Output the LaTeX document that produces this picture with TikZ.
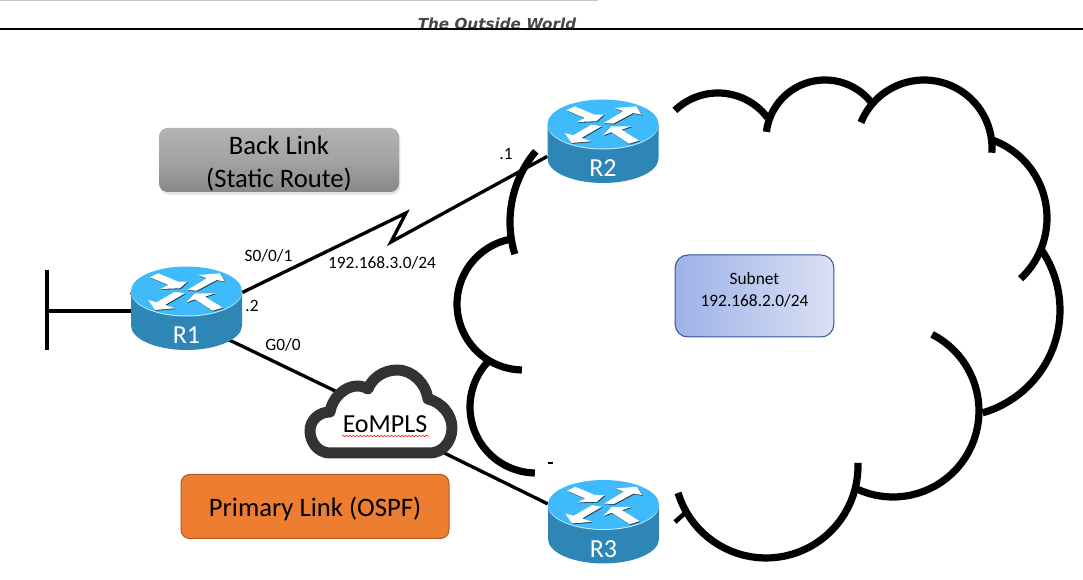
\documentclass[tikz,border=0pt]{standalone}
\usepackage{fontspec}
\setmainfont{Carlito}
\newfontfamily\topfont{DejaVu Sans}
\usetikzlibrary{backgrounds}
\usetikzlibrary{shadows}
\usetikzlibrary{decorations.pathmorphing}
\definecolor{routertop}{HTML}{3FBBFB}
\definecolor{routerside}{HTML}{2E86B6}
\definecolor{routerarrow}{HTML}{1F3A4A}
\definecolor{primaryfill}{HTML}{ED7D31}
\definecolor{primaryedge}{HTML}{AE5A21}
\definecolor{subnetleft}{HTML}{9EB2E8}
\definecolor{subnetright}{HTML}{DBE1F5}
\definecolor{subnetedge}{HTML}{2F5597}
\tikzset{
    routerbox/.style={minimum width=83.25pt,minimum height=62.25pt,inner sep=0pt},
    routertext/.style={text=white,font=\fontsize{19.5}{22}\selectfont,inner sep=0pt},
    small/.style={font=\fontsize{13}{15}\selectfont,inner sep=0pt,align=center},
    big/.style={font=\fontsize{20}{24.5}\selectfont,inner sep=0pt,align=center},
    link/.style={line width=2.5pt,black},
    cloudline/.style={line width=5.4pt,black},
    tag/.style={rounded corners=6.5pt,inner sep=0pt,align=center}
}
% one router: name, x, y, text
\newcommand{\router}[4]{
    \node[routerbox] (#1) at (#2,#3) {};
    \begin{scope}[shift={(#2,#3)}]
      \fill[routerside] (-55.5,-17.5) -- (-55.5,17) arc[start angle=180,end angle=360,x radius=41.625pt,y radius=18.375pt] -- (55.5,-17.5) -- cycle;
      \fill[white!70!routertop] (0,-16.5) ellipse[x radius=41.625pt,y radius=18.375pt];
      \fill[routertop] (0,-17.5) ellipse[x radius=41.625pt,y radius=18.375pt];
      \foreach \dx/\dy/\col in {0.8/0.8/routerarrow,0/0/white} {
        \begin{scope}[shift={(\dx,\dy)}]
          \fill[\col] (-36.5,-31.2) -- (-28.2,-35.2) -- (-8.2,-26.8) -- (0.8,-26.8) -- (-6.5,-20.2) -- (-25.8,-19.5) -- (-18.2,-23.5) -- cycle;
          \fill[\col] (0.8,-18.5) -- (20.2,-30.2) -- (11.8,-33.5) -- (33.5,-35.2) -- (38.5,-26.8) -- (30.2,-28.5) -- (10.2,-17.8) -- cycle;
          \fill[\col] (-38.2,-8.5) -- (-29.8,-6.2) -- (-11.5,-16.8) -- (-1.5,-15.2) -- (-21.5,-3.5) -- (-11.5,-0.2) -- (-31.5,1.5) -- cycle;
          \fill[\col] (0,-6.2) -- (8.5,-15.2) -- (28.5,-15.2) -- (18.5,-11.8) -- (36.2,-0.8) -- (26.2,2.2) -- (8.5,-9.2) -- cycle;
        \end{scope}
      }
      \node[routertext] (#1text) at (0,27) {#4};
    \end{scope}
}

\begin{document}
\begin{tikzpicture}[x=0.75pt,y=-0.75pt]
    \useasboundingbox (0,0) rectangle (1083,580);

    % top of the page
    \draw[line width=0.9pt,black!22] (0,0.5) -- (598,0.5);
    \begin{scope}
      \clip (300,0) rectangle (620,28);
      \node[text=black!72,inner sep=0pt,font=\topfont\bfseries\itshape\fontsize{11.4}{13}\selectfont] (outside) at (497,24) {The Outside World};
    \end{scope}
    \draw[line width=1.5pt,black] (0,29) -- (1083,29);

    % large cloud
    \foreach \cx/\cy/\rad/\a/\b in {
        718/155/62/134/37, 825/139/59/173/35, 924/148/68/158/-4,
        964/218/83/70/-47, 953/310/107/34/-74, 893/411/86/63/-115,
        766/466/92/2/-163, 620/222/110/140/197, 523/304/66/101/269,
        536/407/66/137/269} {
      \draw[cloudline] plot[domain=\a:\b,samples=40] ({\cx+\rad*cos(\x)},{\cy-\rad*sin(\x)});
    }
    \draw[line width=3.4pt] (675,522) -- (685,513);
    \draw[line width=0.8pt] (548,463) -- (553,463);

    % labels in boxes
    \node[tag,big,minimum width=180pt,minimum height=48pt,top color=black!30,bottom color=black!47,middle color=black!36,drop shadow={opacity=0.22,shadow xshift=1pt,shadow yshift=-2pt}] (backlink) at (279,160) {\rule{0pt}{19pt}Back Link\\(Static Route)};
    \node[tag,big,minimum width=201pt,minimum height=48pt,fill=primaryfill,draw=primaryedge,line width=0.75pt] (primary) at (315,506.5) {\rule{0pt}{17.5pt}Primary Link (OSPF)};
    \node[tag,small,rounded corners=9.5pt,minimum width=119pt,minimum height=61.5pt,left color=subnetleft,right color=subnetright,draw=subnetedge,line width=0.75pt] (subnet) at (754.5,296) {Subnet\\[1.5pt]192.168.2.0/24\rule[-10.5pt]{0pt}{10.5pt}};

    % EoMPLS cloud
    \draw[line width=8.25pt,fill=white,draw=black!80,line join=round] (330,453)
      .. controls (318,453) and (310,442) .. (310,431)
      .. controls (310,420) and (319,412) .. (330,412)
      .. controls (332,398) and (345,386) .. (357,386)
      .. controls (361,386) and (365,387) .. (368,389)
      .. controls (372,378) and (384,370) .. (397,370)
      .. controls (413,370) and (426,384) .. (428,399)
      .. controls (441,402) and (452,414) .. (452,428)
      .. controls (452,442) and (442,453) .. (430,453) -- cycle;
    \node[big,font=\fontsize{19.5}{24}\selectfont,minimum width=67.5pt,minimum height=30pt] (eompls) at (385,424) {EoMPLS};
    \draw[red,line width=0.4pt,decorate,decoration={snake,segment length=2.6pt,amplitude=0.5pt}] (342,436) -- (429,436);

    \router{rone}{186.5}{308.5}{R1}
    \router{rtwo}{603}{141.5}{R2}
    \router{rthree}{603.5}{522}{R3}

    % free end on the left
    \coordinate (lantop) at (47,270);
    \coordinate (lanbot) at (47,350);
    \coordinate (lanmid) at (47,311);
    \coordinate (zigtop) at (406,213);
    \coordinate (zigbot) at (391,242);
    \draw[line width=2.8pt] (lantop) -- (lanbot);
    \draw[line width=2.8pt] (lanmid) -- (lanmid -| rone.west);

    % links pass behind the routers and the small cloud
    \begin{scope}[on background layer]
      \draw[link] (rone.16.6) -- (zigtop) -- (zigbot) -- (rtwo.195);
      \draw[link] (rone.164.4) -- (eompls.139);
      \draw[link] (eompls.-26.6) -- (rthree.162);
    \end{scope}

    \node[small] (serial) at (268.5,256) {S0/0/1};
    \node[small] (serialnet) at (382,263) {192.168.3.0/24};
    \node[small] (dotone) at (506,154) {.1};
    \node[small] (dottwo) at (252,306) {.2};
    \node[small] (gig) at (283,345) {G0/0};
\end{tikzpicture}
\end{document}
